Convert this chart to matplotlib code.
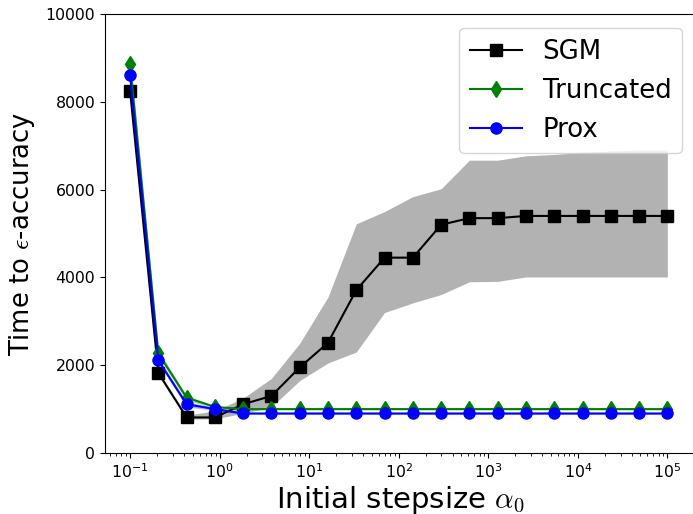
import matplotlib
matplotlib.use('Agg')
import matplotlib.pyplot as plt
import numpy as np

plt.rcParams['mathtext.fontset'] = 'cm'

# initial stepsizes (log grid) and time to reach eps-accuracy
stepsizes = [0.1, 0.207, 0.428, 0.886, 1.83, 3.79, 7.85, 16.2, 33.6, 69.5,
             144, 298, 616, 1274, 2637, 5456, 11288, 23357, 48329, 100000]

sgm_mean = [8250, 1820, 810, 810, 1110, 1300, 1950, 2510, 3710, 4450,
            4450, 5200, 5350, 5350, 5400, 5400, 5400, 5400, 5400, 5400]
sgm_lo = [8200, 1780, 770, 780, 900, 1050, 1650, 2050, 2300, 3200,
          3420, 3610, 3900, 3910, 4010, 4010, 4010, 4010, 4010, 4010]
sgm_hi = [8300, 1870, 860, 960, 1250, 1700, 2500, 3550, 5220, 5500,
          5840, 6020, 6670, 6670, 6770, 6800, 6850, 6880, 6900, 6900]

trunc_mean = [8850, 2270, 1260, 1050, 1000, 1000, 1000, 1000, 1000, 1000,
              1000, 1000, 1000, 1000, 1000, 1000, 1000, 1000, 1000, 1000]
trunc_lo = [8600, 2200, 1200, 1020, 985, 985, 985, 985, 985, 985,
            985, 985, 985, 985, 985, 985, 985, 985, 985, 985]
trunc_hi = [9100, 2340, 1310, 1080, 1015, 1015, 1015, 1015, 1015, 1015,
            1015, 1015, 1015, 1015, 1015, 1015, 1015, 1015, 1015, 1015]

prox_mean = [8600, 2110, 1110, 1000, 900, 900, 900, 900, 900, 900,
             900, 900, 900, 900, 900, 900, 900, 900, 900, 900]
prox_lo = [8450, 2050, 1050, 970, 880, 880, 880, 880, 880, 880,
           880, 880, 880, 880, 880, 880, 880, 880, 880, 880]
prox_hi = [8750, 2170, 1170, 1030, 920, 920, 920, 920, 920, 920,
           920, 920, 920, 920, 920, 920, 920, 920, 920, 920]

fig = plt.figure(figsize=(6.93, 5.14), dpi=100)
ax = fig.add_axes([105 / 693, 61 / 514, 591 / 693, 439 / 514])

x = np.array(stepsizes)
ax.plot(x, sgm_mean, 'k-s', lw=1.5, ms=8, label='SGM')
ax.fill_between(x, sgm_lo, sgm_hi, color='k', alpha=0.3, lw=0)
ax.plot(x, trunc_mean, 'g-d', lw=1.5, ms=8, label='Truncated')
ax.fill_between(x, trunc_lo, trunc_hi, color='g', alpha=0.3, lw=0)
ax.plot(x, prox_mean, 'b-o', lw=1.5, ms=8, label='Prox')
ax.fill_between(x, prox_lo, prox_hi, color='b', alpha=0.3, lw=0)

ax.set_xscale('log')
ax.set_xlim(10 ** -1.28, 10 ** 5.32)
ax.set_ylim(0, 10000)
ax.set_yticks([0, 2000, 4000, 6000, 8000, 10000])
ax.tick_params(labelsize=11.3)

ax.set_xlabel(r'Initial stepsize $\alpha_0$', fontsize=21, labelpad=1.5)
ax.set_ylabel(r'Time to $\epsilon$-accuracy', fontsize=18.6, labelpad=6)
ax.legend(loc='upper right', fontsize=18.7, borderaxespad=0.55)

fig.savefig('out.png', dpi=100)
